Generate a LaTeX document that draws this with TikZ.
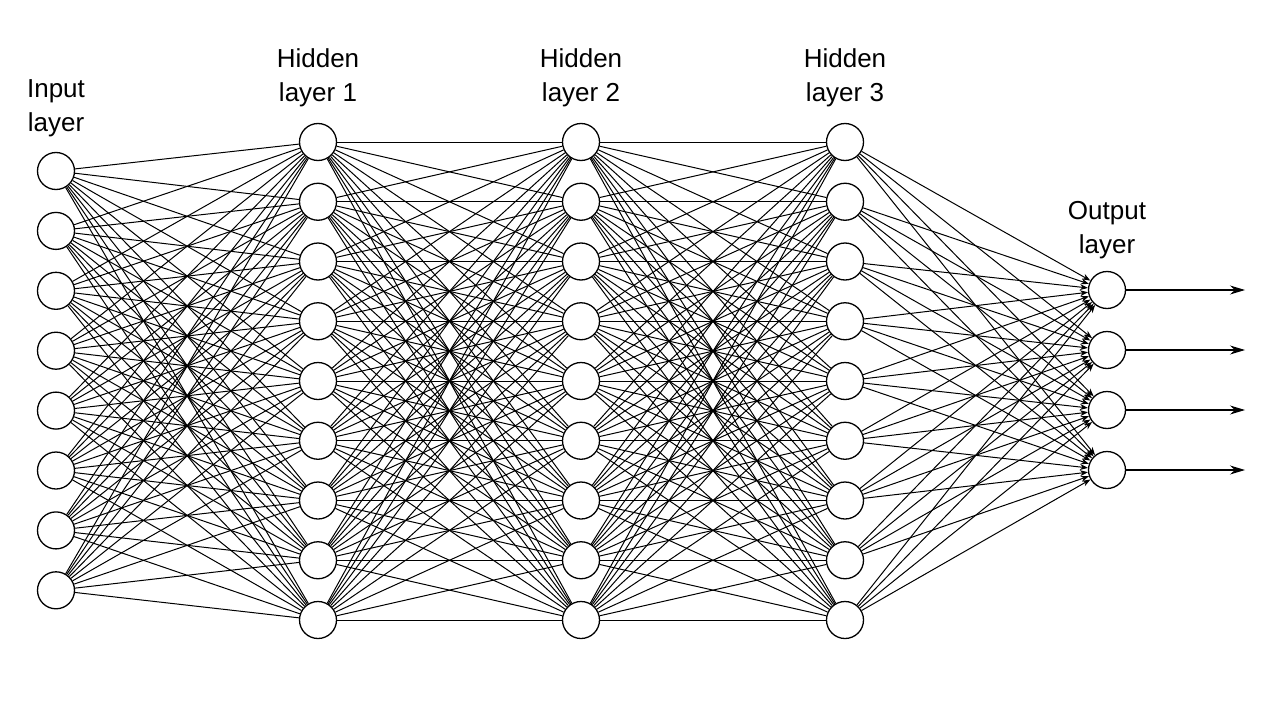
\documentclass[tikz,border=0pt]{standalone}
\usepackage{fontspec}
\setmainfont{Liberation Sans}
\usetikzlibrary{arrows.meta}
\begin{document}
\begin{tikzpicture}[x=1pt,y=-1pt,
  neuron/.style={circle,draw=black,line width=1.3pt,fill=white,minimum size=37pt,inner sep=0pt},
  conn/.style={draw=black,line width=1pt},
  inconn/.style={conn,-{Stealth[length=8pt,width=6pt]}},
  outarrow/.style={draw=black,line width=1.1pt,-{Stealth[length=15pt,width=9pt]}},
  lbl/.style={font=\fontsize{26}{34}\selectfont,align=center,inner sep=0pt}]
\useasboundingbox (0,0) rectangle (1280,720);
% nodes
\foreach \i in {1,...,8} \node[neuron] (I\i) at (56,{171+59.9*(\i-1)}) {};
\foreach \i in {1,...,9} \node[neuron] (A\i) at (318,{142+59.75*(\i-1)}) {};
\foreach \i in {1,...,9} \node[neuron] (B\i) at (581,{142+59.75*(\i-1)}) {};
\foreach \i in {1,...,9} \node[neuron] (C\i) at (845,{142+59.75*(\i-1)}) {};
\foreach \i in {1,...,4} \node[neuron] (O\i) at (1107,{290+60*(\i-1)}) {};
\foreach \i in {1,...,4} \coordinate (E\i) at (1245,{290+60*(\i-1)});
% connections
\foreach \i in {1,...,8} \foreach \j in {1,...,9} \draw[conn] (I\i) -- (A\j);
\foreach \i in {1,...,9} \foreach \j in {1,...,9} \draw[conn] (A\i) -- (B\j);
\foreach \i in {1,...,9} \foreach \j in {1,...,9} \draw[conn] (B\i) -- (C\j);
\foreach \i in {1,...,9} \foreach \j in {1,...,4} \draw[inconn] (C\i) -- (O\j);
\foreach \i in {1,...,4} \draw[outarrow] (O\i) -- (E\i);
% labels
\node[lbl] (Lin) at (56,108) {Input\\layer};
\node[lbl] (Lh1) at (318,78) {Hidden\\layer 1};
\node[lbl] (Lh2) at (581,78) {Hidden\\layer 2};
\node[lbl] (Lh3) at (845,78) {Hidden\\layer 3};
\node[lbl] (Lout) at (1107,230) {Output\\layer};
\end{tikzpicture}
\end{document}
